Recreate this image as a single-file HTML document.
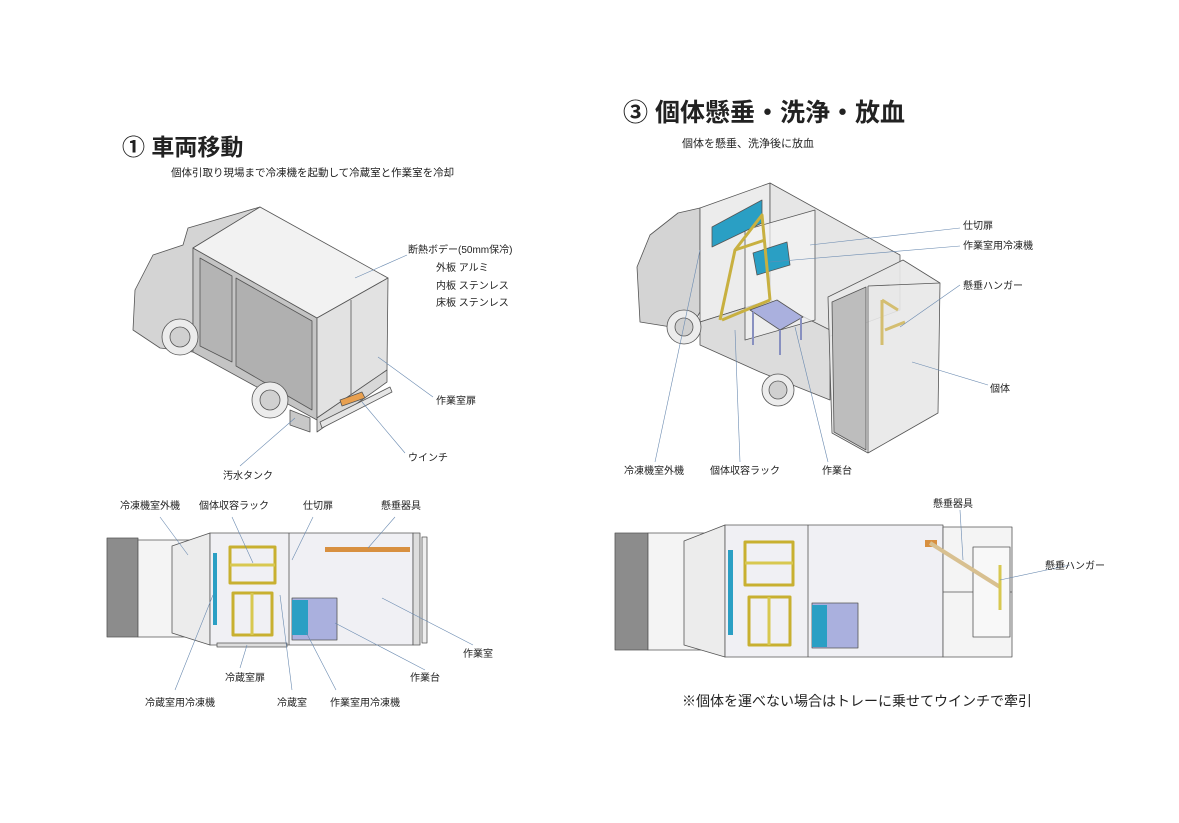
<!DOCTYPE html>
<html><head><meta charset="utf-8"><style>
html,body{margin:0;padding:0;background:#fff;}
svg{display:block;}
text{font-family:"Liberation Sans","Noto Sans CJK JP",sans-serif;fill:#222;}
</style></head><body>
<svg width="1179" height="823" viewBox="0 0 1179 823" xmlns="http://www.w3.org/2000/svg">
<g stroke="#555" stroke-width="0.8" stroke-linejoin="round">
<!-- Left truck -->
<polygon points="133,330 135,290 153,255 183,245 188,228 260,207 193,248 193,352 160,348" fill="#d4d4d4"/>
<polygon points="193,248 317,318 317,420 193,352" fill="#c4c4c4"/>
<polygon points="200,258 232,276 232,362 200,346" fill="#b4b4b4"/>
<polygon points="236,278 312,321 312,410 236,366" fill="#b0b0b0"/>
<polygon points="193,248 260,207 388,278 317,318" fill="#f2f2f2"/>
<polygon points="317,318 388,278 387,370 317,418" fill="#e2e2e2"/>
<line x1="351" y1="300" x2="351" y2="396"/>
<polygon points="317,418 387,370 387,382 317,432" fill="#d8d8d8"/>
<polygon points="290,410 310,418 310,432 290,425" fill="#c8c8c8"/>
<polygon points="340,400 362,392 365,398 342,406" fill="#e8a050"/>
<polygon points="320,422 390,387 392,392 322,428" fill="#e6e6e6"/>
<circle cx="180" cy="337" r="18" fill="#ececec"/><circle cx="180" cy="337" r="10" fill="#d0d0d0"/>
<circle cx="270" cy="400" r="18" fill="#ececec"/><circle cx="270" cy="400" r="10" fill="#d0d0d0"/>
<!-- Right truck -->
<polygon points="637,267 650,235 678,213 700,208 700,312 690,330 640,322" fill="#d4d4d4"/>
<polygon points="700,208 770,183 770,300 700,322" fill="#ececec"/>
<polygon points="770,183 900,255 900,310 820,340 770,300" fill="#e6e6e6"/>
<polygon points="700,322 770,300 830,330 830,400 760,372 700,345" fill="#dcdcdc"/>
<polygon points="745,230 815,210 815,320 745,340" fill="#f4f4f4" fill-opacity="0.7"/>
<polygon points="712,227 762,200 762,223 712,247" fill="#2a9fc4"/>
<polygon points="753,253 787,242 790,265 757,275" fill="#2a9fc4"/>
<g stroke="#c8b040" stroke-width="3" fill="none">
<polyline points="720,320 735,250 762,215 770,300"/><polyline points="722,320 770,300"/><line x1="735" y1="250" x2="765" y2="240"/>
</g>
<polygon points="750,310 777,300 803,317 780,330" fill="#aab0de"/>
<g stroke="#8890c0" stroke-width="2"><line x1="753" y1="312" x2="753" y2="345"/><line x1="780" y1="330" x2="780" y2="355"/><line x1="801" y1="318" x2="801" y2="340"/></g>
<polygon points="828,297 903,260 940,283 938,413 868,453 832,433" fill="#e8e8e8" fill-opacity="0.9"/>
<polygon points="832,302 866,287 866,450 834,432" fill="#bdbdbd"/>
<line x1="868" y1="286" x2="868" y2="453"/><line x1="868" y1="286" x2="940" y2="283"/>
<g stroke="#d4be70" stroke-width="3"><line x1="882" y1="300" x2="882" y2="345"/><line x1="882" y1="300" x2="898" y2="310"/><line x1="885" y1="330" x2="905" y2="322"/></g>
<circle cx="684" cy="327" r="17" fill="#ececec"/><circle cx="684" cy="327" r="9" fill="#d0d0d0"/>
<circle cx="778" cy="390" r="16" fill="#ececec"/><circle cx="778" cy="390" r="9" fill="#d0d0d0"/>
<!-- Left plan -->
<rect x="107" y="538" width="31" height="99" fill="#8c8c8c"/>
<polygon points="138,540 210,540 210,637 138,637" fill="#f4f4f4"/>
<polygon points="172,546 210,533 210,645 172,633" fill="#ececec"/>
<rect x="210" y="533" width="203" height="112" fill="#f0f0f4"/>
<line x1="289" y1="533" x2="289" y2="645"/>
<rect x="413" y="533" width="7" height="112" fill="#ddd"/>
<rect x="422" y="537" width="5" height="106" fill="#eee"/>
<rect x="213" y="553" width="4" height="72" fill="#2a9fc4" stroke="none"/>
<rect x="230" y="547" width="45" height="36" fill="none" stroke="#c8b030" stroke-width="3"/><line x1="230" y1="565" x2="275" y2="565" stroke="#d8c850" stroke-width="3"/>
<rect x="233" y="593" width="39" height="42" fill="none" stroke="#c8b030" stroke-width="3"/><line x1="252" y1="593" x2="252" y2="635" stroke="#d8c850" stroke-width="3"/>
<rect x="325" y="547" width="85" height="5" fill="#d89040" stroke="none"/>
<rect x="292" y="598" width="45" height="42" fill="#aab0de"/>
<rect x="292" y="600" width="16" height="35" fill="#2a9fc4" stroke="none"/>
<rect x="217" y="643" width="70" height="4" fill="#ddd"/>
<!-- Right plan -->
<rect x="615" y="533" width="33" height="117" fill="#8c8c8c"/>
<rect x="648" y="533" width="77" height="117" fill="#f4f4f4"/>
<polygon points="684,541 725,525 725,657 684,645" fill="#ececec"/>
<rect x="725" y="525" width="218" height="132" fill="#f0f0f4"/>
<line x1="808" y1="525" x2="808" y2="657"/>
<rect x="728" y="550" width="5" height="85" fill="#2a9fc4" stroke="none"/>
<rect x="745" y="542" width="48" height="43" fill="none" stroke="#c8b030" stroke-width="3"/><line x1="745" y1="563" x2="793" y2="563" stroke="#d8c850" stroke-width="3"/>
<rect x="749" y="597" width="41" height="48" fill="none" stroke="#c8b030" stroke-width="3"/><line x1="769" y1="597" x2="769" y2="645" stroke="#d8c850" stroke-width="3"/>
<rect x="812" y="603" width="46" height="45" fill="#aab0de"/>
<rect x="812" y="605" width="15" height="42" fill="#2a9fc4" stroke="none"/>
<rect x="943" y="527" width="69" height="130" fill="#f4f4f4"/>
<line x1="943" y1="592" x2="1012" y2="592"/>
<rect x="973" y="547" width="37" height="90" fill="#f8f8f8"/>
<rect x="925" y="540" width="12" height="7" fill="#d89040" stroke="none"/>
<line x1="930" y1="543" x2="1000" y2="587" stroke="#d8c090" stroke-width="4"/>
<line x1="1000" y1="565" x2="1000" y2="610" stroke="#d8c850" stroke-width="3"/>
</g>
<!-- leader lines -->
<g stroke="#6a8ab0" stroke-width="0.6" fill="none">
<line x1="407" y1="255" x2="355" y2="278"/><line x1="433" y1="397" x2="378" y2="357"/><line x1="405" y1="453" x2="362" y2="402"/><line x1="240" y1="466" x2="295" y2="418"/>
<line x1="960" y1="228" x2="810" y2="245"/><line x1="960" y1="246" x2="770" y2="262"/><line x1="960" y1="285" x2="900" y2="327"/><line x1="988" y1="385" x2="912" y2="362"/>
<line x1="655" y1="462" x2="700" y2="250"/><line x1="740" y1="462" x2="735" y2="330"/><line x1="828" y1="462" x2="795" y2="327"/>
<line x1="160" y1="517" x2="188" y2="555"/><line x1="232" y1="517" x2="253" y2="563"/><line x1="313" y1="517" x2="292" y2="560"/><line x1="395" y1="517" x2="368" y2="548"/>
<line x1="473" y1="645" x2="382" y2="598"/><line x1="425" y1="670" x2="335" y2="623"/><line x1="240" y1="668" x2="247" y2="645"/>
<line x1="175" y1="690" x2="213" y2="595"/><line x1="292" y1="690" x2="280" y2="595"/><line x1="336" y1="690" x2="306" y2="632"/>
<line x1="960" y1="510" x2="963" y2="560"/><line x1="1070" y1="565" x2="1000" y2="580"/>
</g>
<!-- text -->
<text x="122" y="155" font-size="23" font-weight="bold">① 車両移動</text>
<text x="171" y="176" font-size="10.5">個体引取り現場まで冷凍機を起動して冷蔵室と作業室を冷却</text>
<text x="623" y="121" font-size="25" font-weight="bold">③ 個体懸垂・洗浄・放血</text>
<text x="682" y="147" font-size="11">個体を懸垂、洗浄後に放血</text>
<g font-size="10">
<text x="408" y="253">断熱ボデー(50mm保冷)</text>
<text x="436" y="271">外板 アルミ</text>
<text x="436" y="289">内板 ステンレス</text>
<text x="436" y="306">床板 ステンレス</text>
<text x="436" y="404">作業室扉</text>
<text x="408" y="461">ウインチ</text>
<text x="223" y="479">汚水タンク</text>
<text x="963" y="229">仕切扉</text>
<text x="963" y="249">作業室用冷凍機</text>
<text x="963" y="289">懸垂ハンガー</text>
<text x="990" y="392">個体</text>
<text x="624" y="474">冷凍機室外機</text>
<text x="710" y="474">個体収容ラック</text>
<text x="822" y="474">作業台</text>
<text x="120" y="509">冷凍機室外機</text>
<text x="199" y="509">個体収容ラック</text>
<text x="303" y="509">仕切扉</text>
<text x="381" y="509">懸垂器具</text>
<text x="463" y="657">作業室</text>
<text x="410" y="681">作業台</text>
<text x="225" y="681">冷蔵室扉</text>
<text x="145" y="706">冷蔵室用冷凍機</text>
<text x="277" y="706">冷蔵室</text>
<text x="330" y="706">作業室用冷凍機</text>
<text x="933" y="507">懸垂器具</text>
<text x="1045" y="569">懸垂ハンガー</text>
</g>
<text x="682" y="706" font-size="14">※個体を運べない場合はトレーに乗せてウインチで牽引</text>
</svg>
</body></html>
